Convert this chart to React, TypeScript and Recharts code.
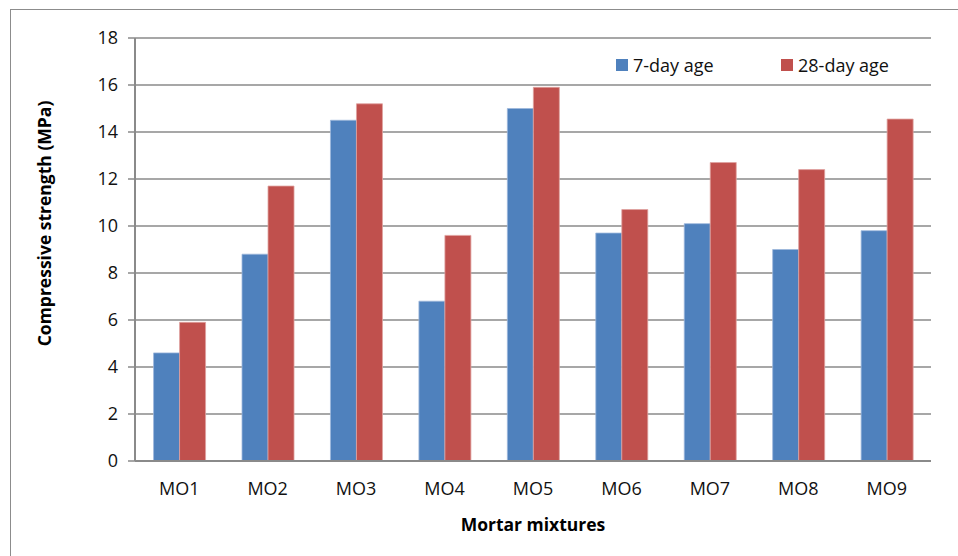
import React from "react";
import { BarChart, Bar, XAxis, YAxis, CartesianGrid, Legend, Label } from "recharts";

const mixtures = ["MO1", "MO2", "MO3", "MO4", "MO5", "MO6", "MO7", "MO8", "MO9"];
const day7 = [4.6, 8.8, 14.5, 6.8, 15.0, 9.7, 10.1, 9.0, 9.8];
const day28 = [5.9, 11.7, 15.2, 9.6, 15.9, 10.7, 12.7, 12.4, 14.55];
const yTicks = [0, 2, 4, 6, 8, 10, 12, 14, 16, 18];
const seriesOrder = ["7-day age", "28-day age"];

const data = mixtures.map((m, i) => ({ name: m, d7: day7[i], d28: day28[i] }));

const FONT = "'Open Sans', 'Liberation Sans', sans-serif";
const GRID = "#8a8a8a";
const TITLE_STYLE = { fontFamily: FONT, fontSize: 17.5, fontWeight: 700, fill: "#000" };

const LegendContent = (props: any) => {
  const items = [...(props.payload || [])].sort(
    (a: any, b: any) => seriesOrder.indexOf(a.value) - seriesOrder.indexOf(b.value)
  );
  return (
    <div style={{ display: "flex", fontFamily: FONT, fontSize: 18, color: "#111", lineHeight: "20px" }}>
      {items.map((p: any, i: number) => (
        <div key={i} style={{ display: "flex", alignItems: "center", width: i === 0 ? 165 : "auto" }}>
          <span style={{ width: 12, height: 12, background: p.color, display: "inline-block", marginRight: 5 }} />
          <span>{p.value}</span>
        </div>
      ))}
    </div>
  );
};

// Vertical axis title, sitting a little above the plot's vertical centre
const YTitle = (props: any) => {
  const { viewBox } = props;
  const x = viewBox.x + 44;
  const y = viewBox.y + viewBox.height / 2 - 26;
  return (
    <text
      x={x}
      y={y}
      transform={`rotate(-90, ${x}, ${y})`}
      textAnchor="middle"
      dominantBaseline="central"
      style={TITLE_STYLE}
    >
      Compressive strength (MPa)
    </text>
  );
};

export default function App() {
  return (
    <div style={{ position: "absolute", left: 0, top: 0, width: 958, height: 556, background: "#fff", overflow: "hidden" }}>
      <div
        style={{
          position: "absolute",
          left: 10,
          top: 9,
          width: 960,
          height: 560,
          borderLeft: "1.5px solid #8c8c8c",
          borderTop: "1.5px solid #8c8c8c",
        }}
      />
      <BarChart
        width={958}
        height={556}
        data={data}
        margin={{ top: 38, right: 27, bottom: 0, left: 0 }}
        barCategoryGap="21%"
        barGap={0}
        style={{ position: "absolute", left: 0, top: 0 }}
      >
        <CartesianGrid vertical={false} stroke={GRID} strokeWidth={1.5} />
        <XAxis
          dataKey="name"
          height={95}
          axisLine={{ stroke: GRID, strokeWidth: 2 }}
          tickLine={false}
          tickSize={0}
          tickMargin={21}
          tick={{ fill: "#111", fontSize: 18, fontFamily: FONT }}
        >
          <Label value="Mortar mixtures" position="insideBottom" offset={25} style={TITLE_STYLE} />
        </XAxis>
        <YAxis
          width={135}
          domain={[0, 18]}
          ticks={yTicks}
          interval={0}
          axisLine={{ stroke: GRID, strokeWidth: 2 }}
          tickLine={{ stroke: GRID, strokeWidth: 1.5 }}
          tickSize={7}
          tickMargin={10}
          tick={{ fill: "#111", fontSize: 18, fontFamily: FONT }}
        >
          <Label content={<YTitle />} position="insideLeft" />
        </YAxis>
        <Legend
          layout="horizontal"
          verticalAlign="middle"
          align="center"
          content={<LegendContent />}
          wrapperStyle={{ top: 55, left: 616, width: 320 }}
        />
        <Bar dataKey="d7" name="7-day age" fill="#4F81BD" stroke="#9db8dc" strokeWidth={0.8} isAnimationActive={false} />
        <Bar dataKey="d28" name="28-day age" fill="#C0504D" stroke="#e0a2a0" strokeWidth={0.8} isAnimationActive={false} />
      </BarChart>
    </div>
  );
}
